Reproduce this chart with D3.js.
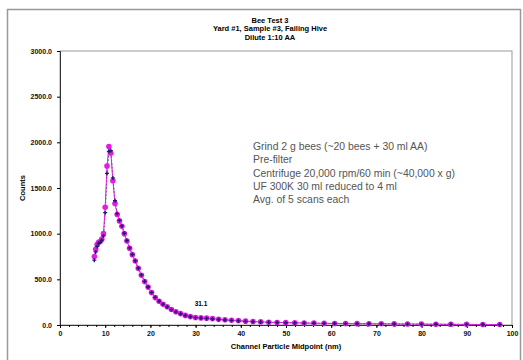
<!DOCTYPE html>
<html>
<head>
<meta charset="utf-8">
<script src="https://cdn.jsdelivr.net/npm/d3@7"></script>
<style>
  body { margin: 0; background: #fff; }
  svg { display: block; font-family: "Liberation Sans", Arial, sans-serif; }
</style>
</head>
<body>
<div id="chart"></div>
<script>
// channel midpoints (nm)
const midpoints = [7.60, 7.90, 8.22, 8.55, 8.89, 9.25, 9.62, 10.00, 10.40, 10.82,
  11.25, 11.70, 12.17, 12.65, 13.16, 13.69, 14.23, 14.80, 15.40, 16.01,
  16.65, 17.32, 18.01, 18.73, 19.48, 20.26, 21.07, 21.92, 22.79, 23.71,
  24.65, 25.64, 26.67, 27.73, 28.84, 29.99, 31.19, 32.44, 33.74, 35.09,
  36.49, 37.95, 39.47, 41.05, 42.69, 44.40, 46.18, 48.02, 49.94, 51.94,
  54.02, 56.18, 58.43, 60.76, 63.19, 65.72, 68.35, 71.08, 73.93, 76.88,
  79.96, 83.16, 86.48, 89.94, 93.54, 97.28];

// dark series
const countsA = [710, 800, 860, 895, 905, 930, 975, 1230, 1660, 1900,
  1910, 1610, 1360, 1220, 1145, 1085, 1005, 925, 845, 772,
  702, 622, 548, 478, 416, 356, 302, 262, 228, 198,
  168, 144, 123, 104, 90, 80, 76, 72, 66, 60,
  55, 50, 45, 40, 36, 32, 29, 27, 25, 23,
  21, 19, 17, 16, 15, 14, 13, 12, 11, 10,
  9, 8, 7, 6, 5, 4];

// magenta series
const countsB = [750, 830, 880, 905, 915, 940, 1000, 1290, 1740, 1955,
  1880, 1580, 1330, 1210, 1140, 1080, 1000, 920, 840, 770,
  700, 620, 545, 475, 415, 355, 300, 260, 228, 200,
  170, 145, 125, 105, 92, 82, 78, 75, 70, 62,
  58, 52, 48, 42, 38, 34, 30, 28, 26, 25,
  22, 20, 18, 17, 16, 15, 14, 13, 12, 11,
  10, 9, 8, 7, 6, 5];

const titleLines = ["Bee Test 3", "Yard #1, Sample #3, Failing Hive", "Dilute 1:10 AA"];
const noteLines = [
  "Grind 2 g bees (~20 bees + 30 ml AA)",
  "Pre-filter",
  "Centrifuge 20,000 rpm/60 min (~40,000 x g)",
  "UF 300K 30 ml reduced to 4 ml",
  "Avg. of 5 scans each"
];
const xTicks = d3.range(0, 101, 10);
const yTicks = d3.range(0, 3001, 500);
const peakLabel = { x: 31.19, text: "31.1" };

const width = 523, height = 360;
const margin = { top: 51, right: 11, bottom: 35, left: 60 };

const svg = d3.select("#chart").append("svg")
  .attr("width", width)
  .attr("height", height);

// outer frame
svg.append("rect")
  .attr("x", 7.5).attr("y", 9.5)
  .attr("width", 513).attr("height", 400)
  .attr("fill", "none").attr("stroke", "#999").attr("stroke-width", 1.5);

const x = d3.scaleLinear().domain([0, 100]).range([margin.left, width - margin.right]);
const y = d3.scaleLinear().domain([0, 3000]).range([height - margin.bottom, margin.top]);

// plot area border
svg.append("rect")
  .attr("x", x(0)).attr("y", y(3000))
  .attr("width", x(100) - x(0)).attr("height", y(0) - y(3000))
  .attr("fill", "none").attr("stroke", "#999").attr("stroke-width", 1);

// title
svg.append("g").selectAll("text")
  .data(titleLines)
  .join("text")
  .attr("x", 270)
  .attr("y", (d, i) => 23 + i * 8.3)
  .attr("text-anchor", "middle")
  .attr("font-size", 7.5)
  .attr("font-weight", "bold")
  .text(d => d);

const tickFont = g => g.selectAll("text")
  .attr("font-size", 7)
  .attr("font-weight", "bold")
  .attr("font-family", "Liberation Sans, Arial")
  .attr("fill", "#111");

// y axis
svg.append("g")
  .attr("transform", `translate(${x(0)},0)`)
  .call(d3.axisLeft(y).tickValues(yTicks).tickFormat(d3.format(".1f")).tickSize(3).tickPadding(5))
  .call(g => g.select(".domain").attr("stroke", "#333"))
  .call(tickFont);

// x axis (minor ticks every 2)
svg.append("g")
  .attr("transform", `translate(0,${y(0)})`)
  .call(d3.axisBottom(x).tickValues(d3.range(0, 101, 2)).tickFormat("").tickSize(2).tickSizeOuter(0))
  .call(g => g.select(".domain").attr("stroke", "#333"));

svg.append("g")
  .attr("transform", `translate(0,${y(0)})`)
  .call(d3.axisBottom(x).tickValues(xTicks).tickSize(3).tickPadding(3))
  .call(g => g.select(".domain").remove())
  .call(tickFont);

// axis titles
svg.append("text")
  .attr("transform", `translate(25,${(y(0) + y(3000)) / 2}) rotate(-90)`)
  .attr("text-anchor", "middle")
  .attr("font-size", 7.5)
  .attr("font-weight", "bold")
  .text("Counts");

svg.append("text")
  .attr("x", (x(0) + x(100)) / 2)
  .attr("y", 349)
  .attr("text-anchor", "middle")
  .attr("font-size", 7.5)
  .attr("font-weight", "bold")
  .text("Channel Particle Midpoint (nm)");

// series lines
const lineA = d3.line().x((d, i) => x(midpoints[i])).y(d => y(d));
svg.append("path")
  .attr("d", lineA(countsA))
  .attr("fill", "none")
  .attr("stroke", "#1a1a70")
  .attr("stroke-width", 0.8)
  .attr("stroke-dasharray", "2,1.5");

svg.append("path")
  .attr("d", lineA(countsB))
  .attr("fill", "none")
  .attr("stroke", "#e020e0")
  .attr("stroke-width", 1);

// magenta circles
svg.append("g").selectAll("circle")
  .data(countsB)
  .join("circle")
  .attr("cx", (d, i) => x(midpoints[i]))
  .attr("cy", d => y(d))
  .attr("r", 2.8)
  .attr("fill", "#e619e6");

// dark star markers
const star = d3.symbol().type(d3.symbolCross).size(9);
svg.append("g").selectAll("path")
  .data(countsA)
  .join("path")
  .attr("transform", (d, i) => `translate(${x(midpoints[i])},${y(d)})`)
  .attr("d", star)
  .attr("fill", "#1c1c6e");

// data label
const pi = midpoints.indexOf(peakLabel.x);
svg.append("text")
  .attr("x", x(peakLabel.x))
  .attr("y", y(countsB[pi]) - 12)
  .attr("text-anchor", "middle")
  .attr("font-size", 6.5)
  .attr("font-weight", "bold")
  .text(peakLabel.text);

// annotation
svg.append("g").selectAll("text")
  .data(noteLines)
  .join("text")
  .attr("x", 253)
  .attr("y", (d, i) => 150 + i * 13.3)
  .attr("font-size", 10.4)
  .attr("fill", "#555")
  .text(d => d);
</script>
</body>
</html>
